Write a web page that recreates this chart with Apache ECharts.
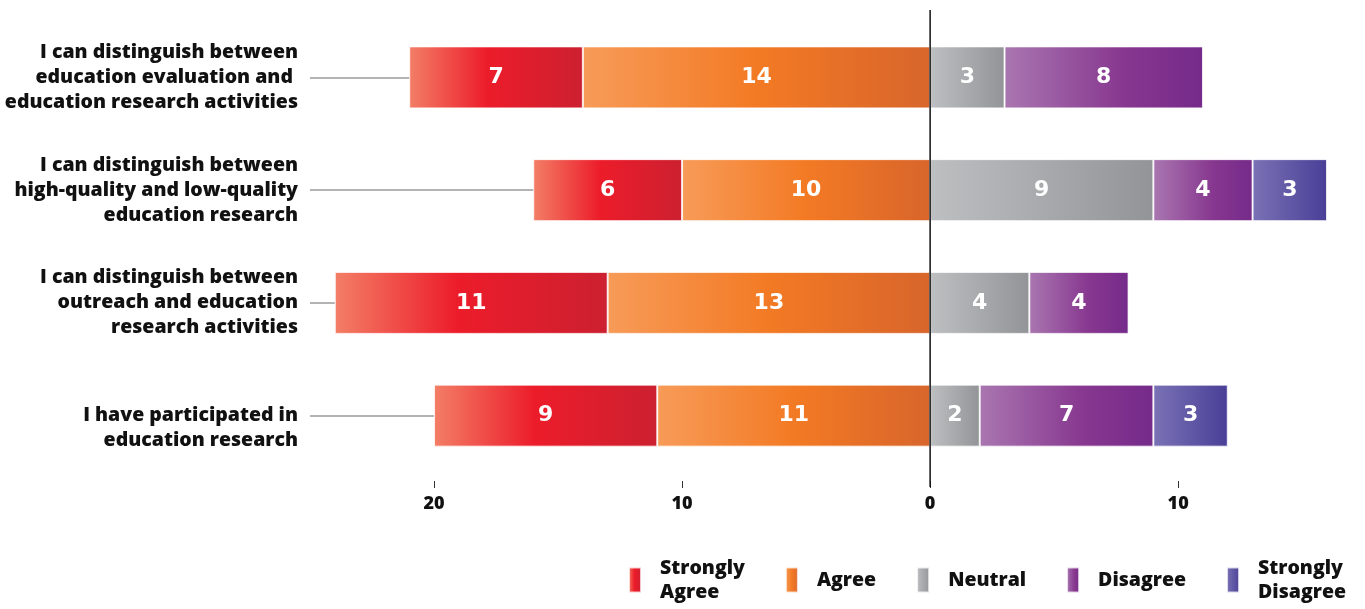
<!DOCTYPE html>
<html>
<head>
<meta charset="utf-8">
<script src="https://cdn.jsdelivr.net/npm/echarts@6/dist/echarts.min.js"></script>
<style>
  html, body { margin: 0; padding: 0; background: #fff; }
  #chart { width: 1365px; height: 609px; }
</style>
</head>
<body>
<div id="chart"></div>
<script>
// Survey statements (top to bottom)
const categories = [
  'I can distinguish between\neducation evaluation and \neducation research activities',
  'I can distinguish between\nhigh-quality and low-quality\neducation research',
  'I can distinguish between\noutreach and education\nresearch activities',
  'I have participated in\neducation research'
];

// Response counts per statement
const stronglyAgree    = [7, 6, 11, 9];
const agree            = [14, 10, 13, 11];
const neutral          = [3, 9, 4, 2];
const disagree         = [8, 4, 4, 7];
const stronglyDisagree = [0, 3, 0, 3];

const tickValues = [-20, -10, 0, 10];

const FONT = '"Open Sans", Lato, "DejaVu Sans", sans-serif';
const X_MIN = -25, X_MAX = 16;

function grad(stops) {
  return {
    type: 'linear', x: 0, y: 0, x2: 1, y2: 0,
    colorStops: stops.map(([offset, color]) => ({ offset, color }))
  };
}

const palette = {
  'Strongly Agree': grad([[0, '#F37E66'], [0.45, '#EC1C2A'], [1, '#CC2030']]),
  'Agree': grad([[0, '#F79B58'], [0.5, '#F37A24'], [1, '#D8652B']]),
  'Neutral': grad([[0, '#BDBFC1'], [1, '#929497']]),
  'Disagree': grad([[0, '#A976B0'], [0.6, '#87378F'], [1, '#752A8A']]),
  'Strongly Disagree': grad([[0, '#7A72B5'], [1, '#493F97']])
};

const valueLabel = {
  show: true,
  position: 'inside',
  color: '#fff',
  fontFamily: '"DejaVu Sans", sans-serif',
  fontWeight: 'bold',
  fontSize: 22,
  formatter: p => (p.value ? Math.abs(p.value) : '')
};

function makeSeries(name, values, negative, extra) {
  return Object.assign({
    name,
    type: 'bar',
    stack: 'total',
    barWidth: 62,
    data: values.map(v => (v === 0 ? null : (negative ? -v : v))),
    itemStyle: {
      color: palette[name],
      borderColor: 'rgba(255,255,255,0.75)',
      borderWidth: 1
    },
    label: valueLabel,
    emphasis: { disabled: true }
  }, extra || {});
}

// Leader lines from each statement to the left end of its bar
const leaders = categories.map((c, i) => [
  { coord: [X_MIN, c] },
  { coord: [-(stronglyAgree[i] + agree[i]), c] }
]);

const series = [
  makeSeries('Agree', agree, true),
  makeSeries('Strongly Agree', stronglyAgree, true, {
    markLine: {
      silent: true,
      symbol: ['none', 'none'],
      label: { show: false },
      lineStyle: { color: '#9a9a9a', width: 1.5, type: 'solid' },
      data: leaders
    }
  }),
  makeSeries('Neutral', neutral, false),
  makeSeries('Disagree', disagree, false),
  makeSeries('Strongly Disagree', stronglyDisagree, false)
];

const chart = echarts.init(document.getElementById('chart'), null, { renderer: 'canvas' });

chart.setOption({
  backgroundColor: '#ffffff',
  animation: false,
  grid: { left: 310, right: 38, top: 21, bottom: 137 },
  xAxis: {
    type: 'value',
    min: X_MIN,
    max: X_MAX,
    offset: 9,
    splitLine: { show: false },
    axisLine: { show: false },
    axisTick: {
      show: true,
      customValues: tickValues,
      length: 7,
      lineStyle: { color: '#333', width: 1 }
    },
    axisLabel: {
      customValues: tickValues,
      formatter: v => String(Math.abs(v)),
      color: '#111',
      fontFamily: FONT,
      fontWeight: 800,
      fontSize: 18,
      margin: 14
    }
  },
  yAxis: {
    type: 'category',
    data: categories,
    inverse: true,
    axisLine: { show: false, onZero: false },
    axisTick: { show: false },
    axisLabel: {
      color: '#111',
      fontFamily: FONT,
      fontWeight: 800,
      fontSize: 19.5,
      lineHeight: 25,
      align: 'right',
      margin: 12,
      // two-line statements start level with the bar centre
      formatter: v => (v.split('\n').length === 2 ? '\n' + v : v)
    }
  },
  legend: {
    data: ['Strongly Agree', 'Agree', 'Neutral', 'Disagree', 'Strongly Disagree'],
    right: 14,
    bottom: 0,
    itemWidth: 12,
    itemHeight: 25,
    itemGap: 40,
    icon: 'rect',
    selectedMode: false,
    formatter: n => n.replace('Strongly ', 'Strongly\n'),
    textStyle: {
      color: '#111',
      fontFamily: FONT,
      fontWeight: 800,
      fontSize: 19.5,
      lineHeight: 24,
      padding: [0, 0, 0, 14]
    }
  },
  series
});

// Zero reference line, extending a little past the plot area
const zeroX = chart.convertToPixel({ xAxisIndex: 0 }, 0);
chart.setOption({
  graphic: [{
    type: 'line',
    silent: true,
    shape: { x1: zeroX, y1: 10, x2: zeroX, y2: 487 },
    style: { stroke: '#111', lineWidth: 1.5 },
    z: 10
  }]
});
</script>
</body>
</html>
